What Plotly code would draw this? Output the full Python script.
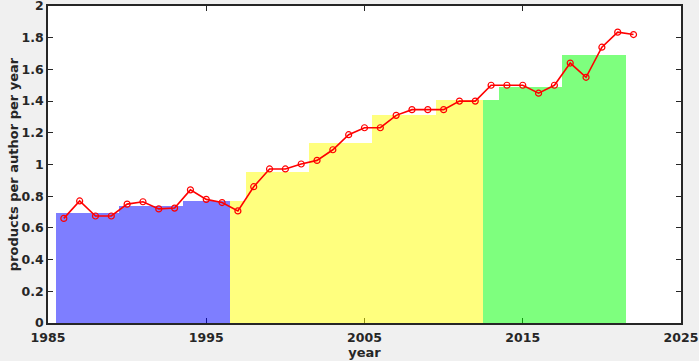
import plotly.graph_objects as go

years = list(range(1986, 2023))
products_per_author = [0.66, 0.77, 0.675, 0.675, 0.75, 0.765, 0.72, 0.725, 0.84, 0.78,
                       0.76, 0.707, 0.86, 0.972, 0.972, 1.003, 1.026, 1.093, 1.188, 1.232,
                       1.232, 1.31, 1.346, 1.346, 1.346, 1.40, 1.40, 1.50, 1.50, 1.50,
                       1.45, 1.50, 1.64, 1.55, 1.74, 1.835, 1.82]

bin_edges = [1985.5, 1989.5, 1993.5, 1997.5, 2001.5, 2005.5, 2009.5, 2013.5, 2017.5, 2021.5]
bin_values = [0.696, 0.74, 0.772, 0.951, 1.136, 1.31, 1.409, 1.487, 1.691]

period_starts = [1985.5, 1996.5, 2012.5]
period_ends = [1996.5, 2012.5, 2021.5]
period_colors = ["rgb(0,0,255)", "rgb(255,255,0)", "rgb(0,255,0)"]

x_ticks = [1985, 1995, 2005, 2015, 2025]
y_ticks = [0, 0.2, 0.4, 0.6, 0.8, 1, 1.2, 1.4, 1.6, 1.8, 2]
y_tick_text = ["0", "0.2", "0.4", "0.6", "0.8", "1", "1.2", "1.4", "1.6", "1.8", "2"]

fig = go.Figure()

for ps, pe, col in zip(period_starts, period_ends, period_colors):
    xs, ws, vs = [], [], []
    for i, v in enumerate(bin_values):
        lo = max(bin_edges[i], ps)
        hi = min(bin_edges[i + 1], pe)
        if hi > lo:
            xs.append((lo + hi) / 2)
            ws.append(hi - lo)
            vs.append(v)
    fig.add_trace(go.Bar(x=xs, y=vs, width=ws, marker=dict(color=col, line=dict(width=0)),
                         opacity=0.5, showlegend=False, hoverinfo="skip"))

fig.add_trace(go.Scatter(x=years, y=products_per_author, mode="lines+markers",
                         line=dict(color="red", width=1.6),
                         marker=dict(symbol="circle-open", size=6, color="red", line=dict(width=1.2)),
                         showlegend=False))

font_col = "#262626"
fig.update_layout(
    width=699, height=361,
    margin=dict(l=48, r=18, t=6, b=38, autoexpand=False),
    paper_bgcolor="#F0F0F0", plot_bgcolor="white",
    barmode="overlay", bargap=0,
    font=dict(family="DejaVu Sans", size=12, color=font_col),
)
fig.update_xaxes(range=[1985, 2025], tickvals=x_ticks, ticks="inside", ticklen=5,
                 tickcolor=font_col, showline=True, linecolor=font_col, linewidth=1.5,
                 mirror="ticks", showgrid=False, zeroline=False, layer="below traces",
                 automargin=False, ticklabeloverflow="allow", ticklabelstandoff=2,
                 tickfont=dict(family="DejaVu Sans", size=12.5, color=font_col, weight="bold"),
                 title=dict(text="<b>year</b>", standoff=0, font=dict(size=13)))
fig.update_yaxes(range=[0, 2], tickvals=y_ticks, ticktext=y_tick_text, ticks="inside", ticklen=5,
                 tickcolor=font_col, showline=True, linecolor=font_col, linewidth=1.5,
                 mirror="ticks", showgrid=False, zeroline=False, automargin=False,
                 ticklabeloverflow="allow",
                 tickfont=dict(family="DejaVu Sans", size=12.5, color=font_col, weight="bold"),
                 title=dict(text="<b>products per author per year</b>", standoff=0, font=dict(size=13)))

fig.write_html("out.html", config={"displayModeBar": False},
               post_script="document.body.style.margin='0';document.body.style.background='#F0F0F0';")
